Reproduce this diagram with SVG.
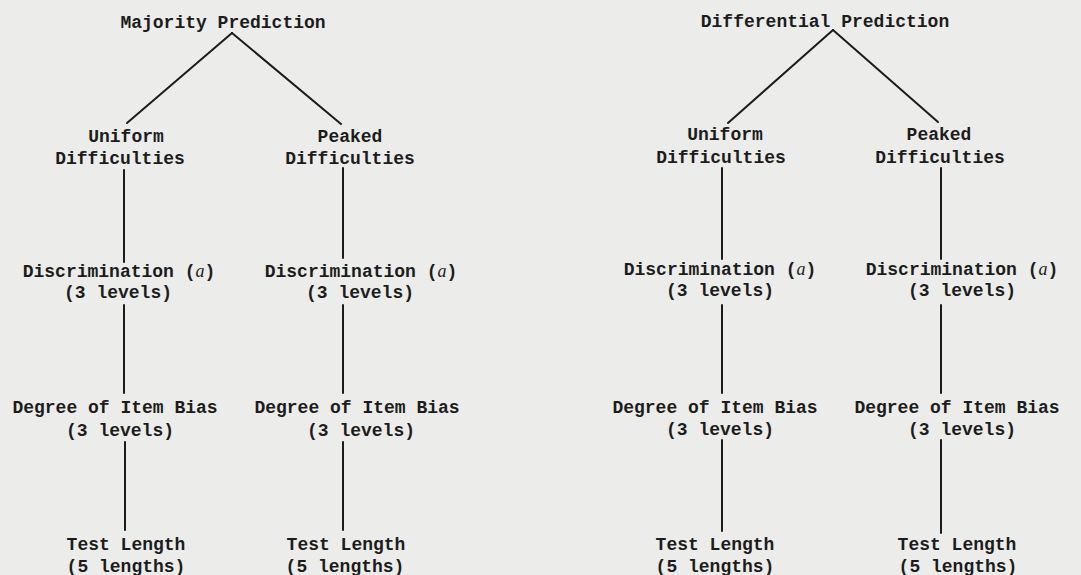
<svg xmlns="http://www.w3.org/2000/svg" width="1081" height="575" viewBox="0 0 1081 575">
<style>
  text { font-family: "Liberation Mono", "DejaVu Sans Mono", monospace; font-size: 18px; font-weight: bold; fill: #1c1c1c; text-anchor: middle; }
  .it { font-family: "Liberation Serif", serif; font-style: italic; font-weight: normal; }
  .c line { stroke: #1c1c1c; stroke-width: 2; stroke-linecap: round; }
</style>
<rect width="1081" height="575" fill="#ececea"/>
<g class="c" id="connectors">
  <line x1="232" y1="33" x2="127" y2="123"/>
  <line x1="232" y1="33" x2="341" y2="124"/>
  <line x1="124" y1="170" x2="124" y2="262"/>
  <line x1="343" y1="168" x2="343" y2="258"/>
  <line x1="124" y1="305" x2="124" y2="393"/>
  <line x1="343" y1="305" x2="343" y2="393"/>
  <line x1="125" y1="442" x2="125" y2="530"/>
  <line x1="343" y1="442" x2="343" y2="530"/>
  <line x1="833" y1="30" x2="728" y2="123"/>
  <line x1="833" y1="30" x2="938" y2="122"/>
  <line x1="722" y1="168" x2="722" y2="259"/>
  <line x1="941" y1="168" x2="941" y2="259"/>
  <line x1="722" y1="305" x2="722" y2="393"/>
  <line x1="941" y1="305" x2="941" y2="393"/>
  <line x1="722" y1="440" x2="722" y2="531"/>
  <line x1="941" y1="440" x2="941" y2="533"/>
</g>
<g id="majority"><text x="223" y="28">Majority Prediction</text></g>
<g id="maj-uniform"><text x="126" y="142">Uniform</text><text x="120" y="164">Difficulties</text></g>
<g id="maj-peaked"><text x="350" y="142">Peaked</text><text x="350" y="164">Difficulties</text></g>
<g id="maj-u-disc"><text x="119" y="277">Discrimination (<tspan class="it">a</tspan>)</text><text x="118" y="298">(3 levels)</text></g>
<g id="maj-p-disc"><text x="361" y="277">Discrimination (<tspan class="it">a</tspan>)</text><text x="360" y="298">(3 levels)</text></g>
<g id="maj-u-bias"><text x="115" y="413">Degree of Item Bias</text><text x="120" y="436">(3 levels)</text></g>
<g id="maj-p-bias"><text x="357" y="413">Degree of Item Bias</text><text x="361" y="436">(3 levels)</text></g>
<g id="maj-u-len"><text x="126" y="550">Test Length</text><text x="126" y="572">(5 lengths)</text></g>
<g id="maj-p-len"><text x="346" y="550">Test Length</text><text x="345" y="572">(5 lengths)</text></g>
<g id="differential"><text x="825" y="27">Differential Prediction</text></g>
<g id="dif-uniform"><text x="725" y="140">Uniform</text><text x="721" y="163">Difficulties</text></g>
<g id="dif-peaked"><text x="939" y="140">Peaked</text><text x="940" y="163">Difficulties</text></g>
<g id="dif-u-disc"><text x="720" y="275">Discrimination (<tspan class="it">a</tspan>)</text><text x="720" y="296">(3 levels)</text></g>
<g id="dif-p-disc"><text x="962" y="275">Discrimination (<tspan class="it">a</tspan>)</text><text x="962" y="296">(3 levels)</text></g>
<g id="dif-u-bias"><text x="715" y="413">Degree of Item Bias</text><text x="720" y="435">(3 levels)</text></g>
<g id="dif-p-bias"><text x="957" y="413">Degree of Item Bias</text><text x="962" y="435">(3 levels)</text></g>
<g id="dif-u-len"><text x="715" y="550">Test Length</text><text x="715" y="572">(5 lengths)</text></g>
<g id="dif-p-len"><text x="957" y="550">Test Length</text><text x="958" y="572">(5 lengths)</text></g>
</svg>
